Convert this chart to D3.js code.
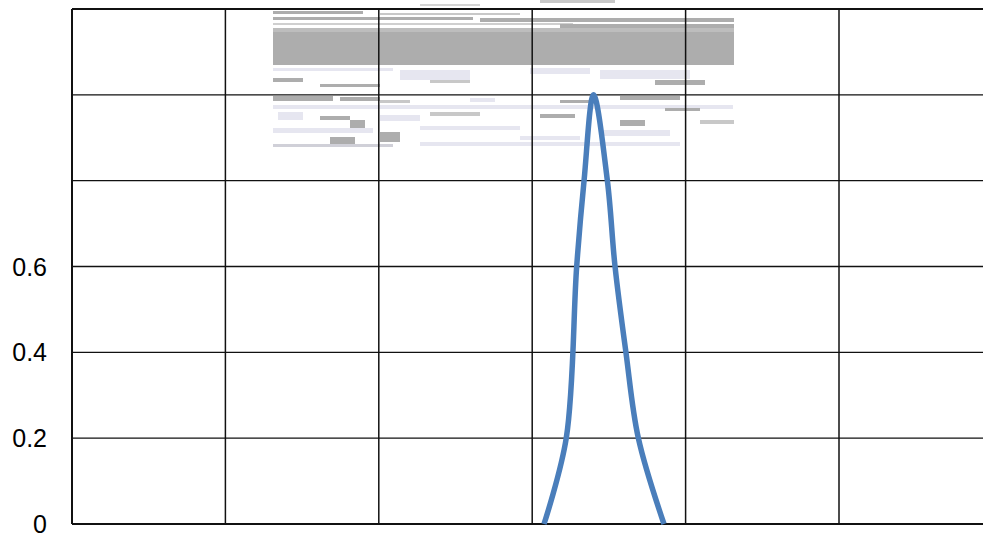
<!DOCTYPE html>
<html>
<head>
<meta charset="utf-8">
<title>chart</title>
<script src="https://d3js.org/d3.v7.min.js"></script>
<style>
  html, body { margin: 0; padding: 0; background: #fff; overflow: hidden; }
  text { font-family: "Liberation Sans", Arial, sans-serif; }
</style>
</head>
<body>
<div id="vis"></div>
<script>
// data
const xs = [3.077, 3.222, 3.290, 3.338, 3.400, 3.490, 3.540, 3.611, 3.692, 3.859];
const ys = [0, 0.2, 0.6, 0.8, 1.0, 0.8, 0.6, 0.4, 0.2, 0];
const yGrid = [0, 0.2, 0.4, 0.6, 0.8, 1.0, 1.2];
const yLabels = [0, 0.2, 0.4, 0.6];   // the upper labels are not shown in the reference
const xGrid = [0, 1, 2, 3, 4, 5, 6];

const W = 983, H = 535;
const svg = d3.select("#vis").append("svg")
  .attr("width", W).attr("height", H);

const x = d3.scaleLinear().domain([0, 6]).range([72, 992.4]);
const y = d3.scaleLinear().domain([0, 1.2]).range([524, 9]);

// glitched picture patch behind the top of the chart (decoration only)
const noise = svg.append("g");
const gray = "#adadad", lav = "#e6e6f0";
noise.append("rect").attr("x", 273).attr("y", 32).attr("width", 461).attr("height", 33).attr("fill", gray);
const streaks = [
  [273, 11, 90, 3, gray], [380, 13, 140, 2, "#c8c8c8"], [273, 17, 200, 3, gray], [480, 18, 254, 4, gray],
  [273, 23, 300, 2, "#cfcfcf"], [560, 24, 174, 6, gray], [273, 28, 461, 4, "#bdbdbd"],
  [540, 0, 75, 3, "#c8c8c8"], [420, 4, 60, 2, "#d5d5d5"],
  [273, 68, 120, 3, lav], [400, 70, 70, 10, lav], [530, 68, 60, 6, lav], [600, 70, 90, 9, lav],
  [273, 78, 30, 4, gray], [320, 84, 60, 3, gray], [430, 80, 40, 3, "#c8c8c8"], [655, 80, 50, 5, gray],
  [273, 96, 60, 5, gray], [340, 97, 40, 4, gray], [380, 100, 30, 3, "#c8c8c8"], [470, 98, 25, 4, lav],
  [560, 100, 30, 3, gray], [620, 96, 60, 4, gray], [273, 105, 460, 4, lav],
  [278, 112, 25, 8, lav], [320, 116, 30, 4, gray], [350, 120, 15, 10, gray], [380, 115, 40, 6, lav],
  [430, 112, 50, 4, "#c8c8c8"], [540, 114, 35, 4, gray], [620, 120, 25, 6, gray], [665, 108, 35, 3, gray],
  [273, 128, 100, 5, lav], [330, 137, 25, 8, gray], [380, 132, 20, 10, gray], [420, 126, 100, 4, lav],
  [520, 136, 60, 4, lav], [600, 130, 70, 6, lav], [273, 144, 120, 3, "#d0d0d8"], [420, 142, 260, 4, lav],
  [700, 120, 34, 4, "#c8c8c8"]
];
noise.selectAll("rect.s").data(streaks).join("rect").attr("class", "s")
  .attr("x", d => d[0]).attr("y", d => d[1]).attr("width", d => d[2]).attr("height", d => d[3])
  .attr("fill", d => d[4]);

// grid
svg.selectAll("line.h").data(yGrid).join("line").attr("class", "h")
  .attr("x1", x(0)).attr("x2", W)
  .attr("y1", d => y(d)).attr("y2", d => y(d))
  .attr("stroke", "#111")
  .attr("stroke-width", d => (d === 0 || d === 1.2) ? 2 : 1.4);

svg.selectAll("line.v").data(xGrid).join("line").attr("class", "v")
  .attr("y1", y(1.2)).attr("y2", y(0))
  .attr("x1", d => x(d)).attr("x2", d => x(d))
  .attr("stroke", "#111")
  .attr("stroke-width", d => d === 0 ? 2 : 1.5);

// y labels
svg.selectAll("text.yl").data(yLabels).join("text").attr("class", "yl")
  .attr("x", 47).attr("y", d => y(d))
  .attr("dy", "0.36em")
  .attr("text-anchor", "end")
  .attr("font-size", 25)
  .attr("fill", "#000")
  .text(d => d3.format("~g")(d));

// series line
const pts = xs.map((v, i) => [v, ys[i]]);
svg.append("path")
  .datum(pts)
  .attr("d", d3.line().x(d => x(d[0])).y(d => y(d[1])).curve(d3.curveCatmullRom.alpha(0.5)))
  .attr("fill", "none")
  .attr("stroke", "#4a7ebb")
  .attr("stroke-width", 5.5)
  .attr("stroke-linejoin", "round");
</script>
</body>
</html>
